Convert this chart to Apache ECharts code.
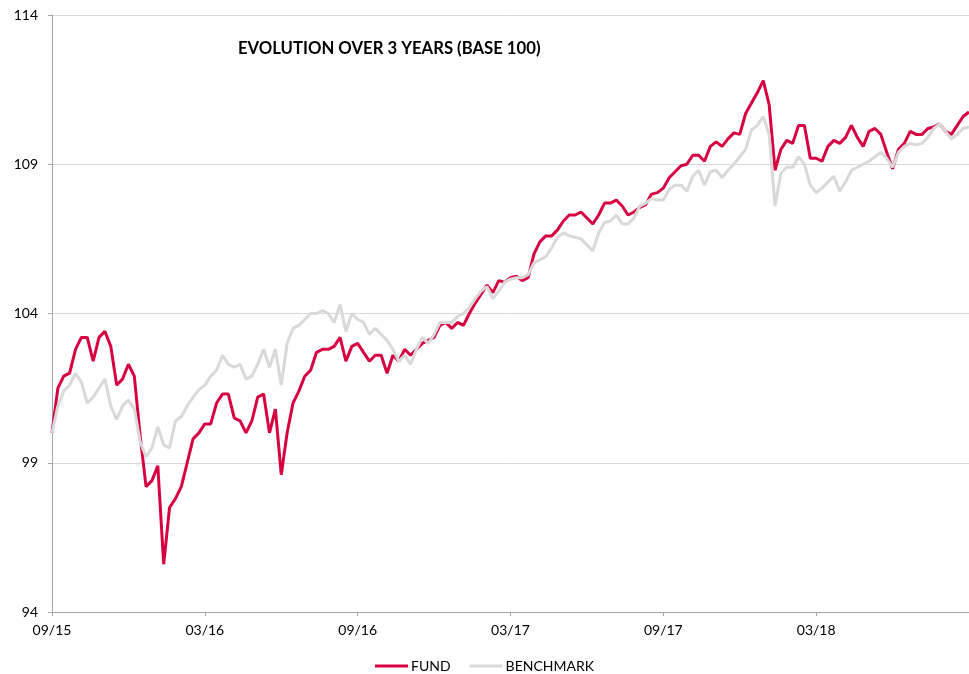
<!DOCTYPE html>
<html>
<head>
<meta charset="utf-8">
<script src="https://cdn.jsdelivr.net/npm/echarts@6/dist/echarts.min.js"></script>
<style>
  html, body { margin: 0; padding: 0; background: #fff; }
  #chart { width: 969px; height: 674px; }
</style>
</head>
<body>
<div id="chart"></div>
<script>
// weekly points, 09/15 -> 09/18
const tickLabels = ['09/15', '03/16', '09/16', '03/17', '09/17', '03/18', '09/18'];

const fund = [
  100.0, 101.5, 101.9, 102.0, 102.8, 103.2, 103.2, 102.4, 103.2, 103.4,
  102.9, 101.6, 101.8, 102.3, 101.9, 99.9, 98.2, 98.4, 98.9, 95.6,
  97.5, 97.8, 98.2, 99.0, 99.8, 100.0, 100.3, 100.3, 101.0, 101.3,
  101.3, 100.5, 100.4, 100.0, 100.4, 101.2, 101.3, 100.0, 100.8, 98.6,
  100.0, 101.0, 101.4, 101.9, 102.1, 102.7, 102.8, 102.8, 102.9, 103.2,
  102.4, 102.9, 103.0, 102.7, 102.4, 102.6, 102.6, 102.0, 102.6, 102.4,
  102.8, 102.6, 102.8, 103.0, 103.1, 103.2, 103.6, 103.7, 103.5, 103.7,
  103.6, 104.0, 104.35, 104.65, 104.95, 104.7, 105.1, 105.05, 105.2, 105.25,
  105.1, 105.2, 106.0, 106.4, 106.6, 106.6, 106.8, 107.1, 107.3, 107.3,
  107.4, 107.2, 107.0, 107.3, 107.7, 107.7, 107.8, 107.6, 107.3, 107.4,
  107.55, 107.65, 108.0, 108.05, 108.2, 108.55, 108.75, 108.95, 109.0, 109.3,
  109.3, 109.1, 109.6, 109.75, 109.6, 109.85, 110.05, 110.0, 110.7, 111.05,
  111.4, 111.8, 111.0, 108.8, 109.5, 109.8, 109.7, 110.3, 110.3, 109.2,
  109.2, 109.1, 109.6, 109.8, 109.7, 109.9, 110.3, 109.9, 109.6, 110.1,
  110.2, 110.0, 109.4, 108.85, 109.5, 109.7, 110.1, 110.0, 110.0, 110.2,
  110.25, 110.35, 110.1, 110.0, 110.3, 110.6, 110.75
];

const benchmark = [
  100.0, 100.9, 101.4, 101.6, 102.0, 101.7, 101.0, 101.2, 101.5, 101.8,
  100.9, 100.45, 100.9, 101.1, 100.8, 99.7, 99.2, 99.5, 100.2, 99.6,
  99.5, 100.4, 100.55, 100.9, 101.2, 101.45, 101.6, 101.9, 102.1, 102.6,
  102.3, 102.2, 102.3, 101.8, 101.9, 102.3, 102.8, 102.2, 102.8, 101.6,
  103.0, 103.5, 103.6, 103.8, 104.0, 104.0, 104.1, 104.0, 103.7, 104.3,
  103.4, 104.0, 103.8, 103.7, 103.3, 103.5, 103.3, 103.1, 102.8, 102.4,
  102.6, 102.3, 102.8, 103.2, 103.0, 103.3, 103.7, 103.7, 103.7, 103.9,
  104.0, 104.2, 104.5, 104.75, 104.9, 104.5, 104.75, 105.05, 105.15, 105.2,
  105.2, 105.3, 105.7, 105.8, 105.9, 106.2, 106.55, 106.7, 106.6, 106.55,
  106.5, 106.3, 106.1, 106.7, 107.05, 107.1, 107.3, 107.0, 107.0, 107.2,
  107.6, 107.7, 107.85, 107.8, 107.8, 108.15, 108.3, 108.3, 108.1, 108.6,
  108.8, 108.3, 108.75, 108.8, 108.55, 108.8, 109.0, 109.25, 109.5, 110.15,
  110.3, 110.6, 110.0, 107.6, 108.7, 108.9, 108.9, 109.25, 109.0, 108.3,
  108.05, 108.2, 108.4, 108.6, 108.1, 108.4, 108.8, 108.9, 109.0, 109.1,
  109.25, 109.4, 109.2, 108.9, 109.4, 109.6, 109.7, 109.65, 109.7, 109.9,
  110.2, 110.35, 110.1, 109.85, 110.0, 110.2, 110.25
];

const FONT = "Lato, 'Open Sans', sans-serif";

const chart = echarts.init(document.getElementById('chart'));
chart.setOption({
  animation: false,
  backgroundColor: '#fff',
  title: {
    text: 'EVOLUTION OVER 3 YEARS (BASE 100)',
    left: 233,
    top: 35,
    textStyle: { fontFamily: FONT, fontSize: 16.7, fontWeight: 'bold', color: '#000' }
  },
  legend: {
    top: 654,
    left: 'center',
    padding: 5,
    itemWidth: 33,
    itemHeight: 3,
    itemGap: 19,
    icon: 'rect',
    textStyle: { fontFamily: FONT, fontSize: 14, color: '#000', padding: [0, 0, 0, -2] },
    data: ['FUND', 'BENCHMARK']
  },
  grid: { left: 52, right: 0, top: 15, bottom: 62 },
  xAxis: {
    type: 'value',
    min: 0,
    max: fund.length - 1,
    interval: 26,
    axisLine: { lineStyle: { color: '#A6A6A6', width: 1 } },
    axisTick: { show: true, length: 4, lineStyle: { color: '#A6A6A6' } },
    splitLine: { show: false },
    axisLabel: {
      fontFamily: FONT, fontSize: 14, color: '#000', margin: 11,
      showMaxLabel: false,
      formatter: v => tickLabels[Math.round(v / 26)] || ''
    }
  },
  yAxis: {
    type: 'value',
    min: 94,
    max: 114,
    interval: 5,
    axisLine: { show: true, lineStyle: { color: '#A6A6A6', width: 1 } },
    axisTick: { show: true, length: 4, lineStyle: { color: '#A6A6A6' } },
    splitLine: { lineStyle: { color: '#D9D9D9', width: 1 } },
    axisLabel: { fontFamily: FONT, fontSize: 14, color: '#000', margin: 14 }
  },
  series: [
    {
      name: 'FUND',
      type: 'line',
      data: fund.map((v, i) => [i, v]),
      showSymbol: false,
      color: '#D70041',
      lineStyle: { width: 3, color: '#D70041' },
      z: 2
    },
    {
      name: 'BENCHMARK',
      type: 'line',
      data: benchmark.map((v, i) => [i, v]),
      showSymbol: false,
      color: '#D9D9D9',
      lineStyle: { width: 3, color: '#D9D9D9' },
      z: 3
    }
  ]
});
</script>
</body>
</html>
